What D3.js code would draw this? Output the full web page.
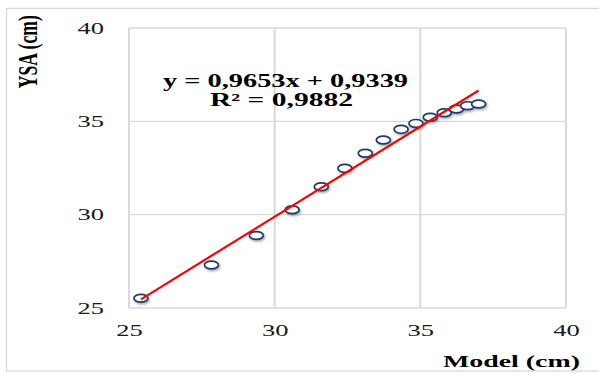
<!DOCTYPE html>
<html>
<head>
<meta charset="utf-8">
<script src="https://cdn.jsdelivr.net/npm/d3@7"></script>
<style>
  html, body { margin: 0; padding: 0; background: #ffffff; }
  svg { display: block; }
</style>
</head>
<body>
<svg id="chart" width="599" height="374"></svg>
<script>
// ---- data ----
const modelValues = [25.41, 27.83, 29.37, 30.60, 31.60, 32.41, 33.11, 33.73, 34.34, 34.85, 35.34, 35.82, 36.24, 36.62, 37.00];
const ysaValues   = [25.52, 27.30, 28.88, 30.26, 31.49, 32.48, 33.29, 34.00, 34.57, 34.89, 35.22, 35.46, 35.66, 35.84, 35.93];
const xTicks = [25, 30, 35, 40];
const yTicks = [25, 30, 35, 40];
const trendSlope = [0.9653];
const trendIntercept = [0.9339];
const equationLines = ["y = 0,9653x + 0,9339", "R² = 0,9882"];
const xTitle = ["Model (cm)"];
const yTitle = ["YSA (cm)"];

// ---- layout ----
const svg = d3.select("#chart");
const SX = 1.58; // horizontal stretch of the source picture
const x = d3.scaleLinear().domain([25, 40]).range([129, 566]);
const y = d3.scaleLinear().domain([25, 40]).range([308, 28]);
const grid = "#d9d9d9";

// outer chart frame
svg.append("rect")
  .attr("x", 6.5).attr("y", 8.5).attr("width", 600).attr("height", 362.5)
  .attr("fill", "#fff").attr("stroke", grid).attr("stroke-width", 1.3);

// shadow filter
const defs = svg.append("defs");
const f = defs.append("filter").attr("id", "sh").attr("x", "-50%").attr("y", "-50%").attr("width", "200%").attr("height", "200%");
f.append("feDropShadow").attr("dx", 1.2).attr("dy", 1.5).attr("stdDeviation", 0.9)
  .attr("flood-color", "#000").attr("flood-opacity", 0.35);

// grid
const gGrid = svg.append("g");
gGrid.selectAll("line.h").data(yTicks).join("line")
  .attr("x1", x(25)).attr("x2", x(40))
  .attr("y1", d => y(d)).attr("y2", d => y(d))
  .attr("stroke", grid).attr("stroke-width", 1.4);
gGrid.selectAll("line.v").data(xTicks).join("line")
  .attr("y1", y(25)).attr("y2", y(40))
  .attr("x1", d => x(d)).attr("x2", d => x(d))
  .attr("stroke", grid).attr("stroke-width", 2);

// axes (tick labels only)
const labFont = "'Liberation Serif', 'Times New Roman', serif";
const xAxis = d3.axisBottom(x).tickValues(xTicks).tickSize(0).tickPadding(0).tickFormat(d3.format("d"));
const gx = svg.append("g").attr("transform", "translate(0,335.5)").call(xAxis);
gx.select(".domain").remove();
gx.selectAll("text")
  .attr("y", 0).attr("dy", 0)
  .attr("font-family", labFont).attr("font-size", 16.5).attr("fill", "#1a1a1a")
  .attr("textLength", 26.5).attr("lengthAdjust", "spacingAndGlyphs");

const yAxis = d3.axisLeft(y).tickValues(yTicks).tickSize(0).tickPadding(0).tickFormat(d3.format("d"));
const gy = svg.append("g").attr("transform", "translate(104,0)").call(yAxis);
gy.select(".domain").remove();
gy.selectAll("text")
  .attr("x", 0).attr("dy", 5.2)
  .attr("font-family", labFont).attr("font-size", 16.5).attr("fill", "#1a1a1a")
  .attr("textLength", 26.5).attr("lengthAdjust", "spacingAndGlyphs");

// markers
const pts = modelValues.map((v, i) => ({ x: v, y: ysaValues[i] }));
svg.append("g").attr("filter", "url(#sh)")
  .selectAll("ellipse").data(pts).join("ellipse")
  .attr("cx", d => x(d.x)).attr("cy", d => y(d.y))
  .attr("rx", 7).attr("ry", 3.9)
  .attr("fill", "#ffffff").attr("stroke", "#1f3a6e").attr("stroke-width", 1.7);

// trendline (drawn over the markers)
const xMin = d3.min(modelValues), xMax = d3.max(modelValues);
const trend = [xMin, xMax].map(v => [v, trendSlope[0] * v + trendIntercept[0]]);
svg.append("path")
  .datum(trend)
  .attr("d", d3.line().x(d => x(d[0])).y(d => y(d[1])))
  .attr("stroke", "#ff0000").attr("stroke-width", 2.2).attr("fill", "none");

// equation
const eq = svg.append("g")
  .attr("font-family", labFont).attr("font-weight", "bold").attr("font-size", 18).attr("fill", "#000");
eq.append("text").attr("x", 163).attr("y", 86.8).text(equationLines[0])
  .attr("textLength", 245).attr("lengthAdjust", "spacingAndGlyphs");
eq.append("text").attr("x", 210).attr("y", 105.6).text(equationLines[1])
  .attr("textLength", 143).attr("lengthAdjust", "spacingAndGlyphs");

// axis titles
svg.append("text")
  .attr("x", 443).attr("y", 366.5)
  .attr("font-family", labFont).attr("font-weight", "bold").attr("font-size", 16.5).attr("fill", "#000")
  .attr("textLength", 137).attr("lengthAdjust", "spacingAndGlyphs")
  .text(xTitle[0]);

svg.append("text")
  .attr("transform", `translate(36.5,51.7) scale(${SX},1) rotate(-90)`)
  .attr("text-anchor", "middle")
  .attr("font-family", labFont).attr("font-weight", "bold").attr("font-size", 17).attr("fill", "#000")
  .attr("textLength", 73).attr("lengthAdjust", "spacingAndGlyphs")
  .text(yTitle[0]);
</script>
</body>
</html>
